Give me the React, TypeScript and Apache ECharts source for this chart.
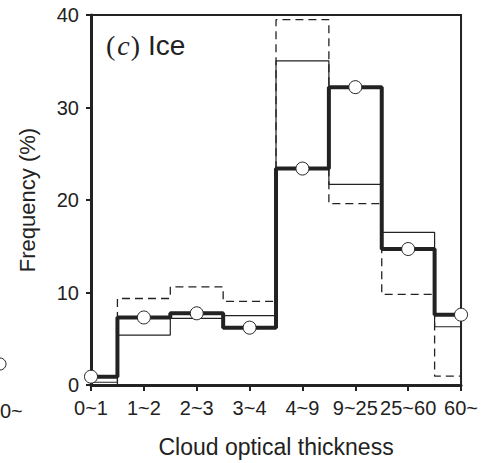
import React, { useEffect, useRef } from "react";
import * as echarts from "echarts";

const categories = ["0~1", "1~2", "2~3", "3~4", "4~9", "9~25", "25~60", "60~"];
const thickValues = [0.9, 7.3, 7.75, 6.2, 23.4, 32.2, 14.7, 7.6];
const thinValues = [0.3, 5.4, 7.2, 7.5, 35.05, 21.7, 16.5, 6.3];
const dashedValues = [0.05, 9.35, 10.6, 9.05, 39.5, 19.6, 9.8, 0.95];
const yTicks = [0, 10, 20, 30, 40];

const INK = "#222";
const FONT = "'Liberation Sans', Arial, sans-serif";
const SERIF = "'Liberation Serif', 'Times New Roman', serif";

export default function App() {
  const ref = useRef<HTMLDivElement>(null);
  useEffect(() => {
    if (!ref.current) return;
    const chart = echarts.init(ref.current, undefined, { renderer: "svg" });
    chart.setOption({
      animation: false,
      title: [
        {
          text: "{p|(}{i|c}{p|)}",
          left: 106,
          top: 31,
          padding: 0,
          textStyle: {
            rich: {
              p: { fontFamily: SERIF, fontSize: 28, fontWeight: "normal", color: INK },
              i: { fontFamily: SERIF, fontStyle: "italic", fontWeight: "normal", fontSize: 28, color: INK, padding: [0, 1, 0, 2] },
            },
          },
        },
        {
          text: "Ice",
          left: 148,
          top: 31,
          padding: 0,
          textStyle: { fontFamily: FONT, fontSize: 28, fontWeight: "normal", color: INK },
        },
        {
          text: "0~",
          left: 0,
          top: 401,
          padding: 0,
          textStyle: { fontFamily: FONT, fontSize: 20, fontWeight: "normal", color: INK },
        },
      ],
      grid: {
        left: 91,
        right: 19,
        top: 15,
        bottom: 76,
        show: true,
        borderColor: INK,
        borderWidth: 2,
      },
      xAxis: {
        type: "category",
        data: categories,
        boundaryGap: false,
        name: "Cloud optical thickness",
        nameLocation: "middle",
        nameGap: 50,
        nameTextStyle: { fontFamily: FONT, fontSize: 23, color: INK },
        axisLine: { lineStyle: { color: INK, width: 3 } },
        axisTick: { show: true, inside: false, interval: 0, length: 6, lineStyle: { color: INK, width: 2 } },
        axisLabel: { interval: 0, fontFamily: FONT, fontSize: 20, color: INK, margin: 13 },
        splitLine: { show: false },
      },
      yAxis: {
        type: "value",
        min: yTicks[0],
        max: yTicks[yTicks.length - 1],
        interval: 10,
        name: "Frequency (%)",
        nameLocation: "middle",
        nameGap: 53,
        nameTextStyle: { fontFamily: FONT, fontSize: 22, color: INK },
        axisLine: { show: true, lineStyle: { color: INK, width: 3 } },
        axisTick: { show: true, inside: false, length: 5, lineStyle: { color: INK, width: 2 } },
        axisLabel: { fontFamily: FONT, fontSize: 20, color: INK, margin: 12 },
        splitLine: { show: false },
      },
      graphic: [
        {
          type: "circle",
          shape: { cx: 0, cy: 364, r: 6 },
          style: { fill: "#fff", stroke: INK, lineWidth: 1 },
        },
      ],
      series: [
        {
          type: "line",
          data: dashedValues,
          step: "middle",
          showSymbol: false,
          symbol: "none",
          lineStyle: { color: INK, width: 1.3, type: [8, 5] },
          z: 2,
        },
        {
          type: "line",
          data: thinValues,
          step: "middle",
          showSymbol: false,
          symbol: "none",
          lineStyle: { color: INK, width: 1.2 },
          z: 3,
        },
        {
          type: "line",
          data: thickValues,
          step: "middle",
          symbol: "circle",
          symbolSize: 13,
          showAllSymbol: true,
          clip: false,
          itemStyle: { color: "#fff", borderColor: INK, borderWidth: 1 },
          lineStyle: { color: INK, width: 4 },
          z: 4,
        },
      ],
    });
    return () => chart.dispose();
  }, []);
  return <div ref={ref} style={{ width: 481, height: 463, position: "absolute", left: 0, top: 0 }} />;
}
